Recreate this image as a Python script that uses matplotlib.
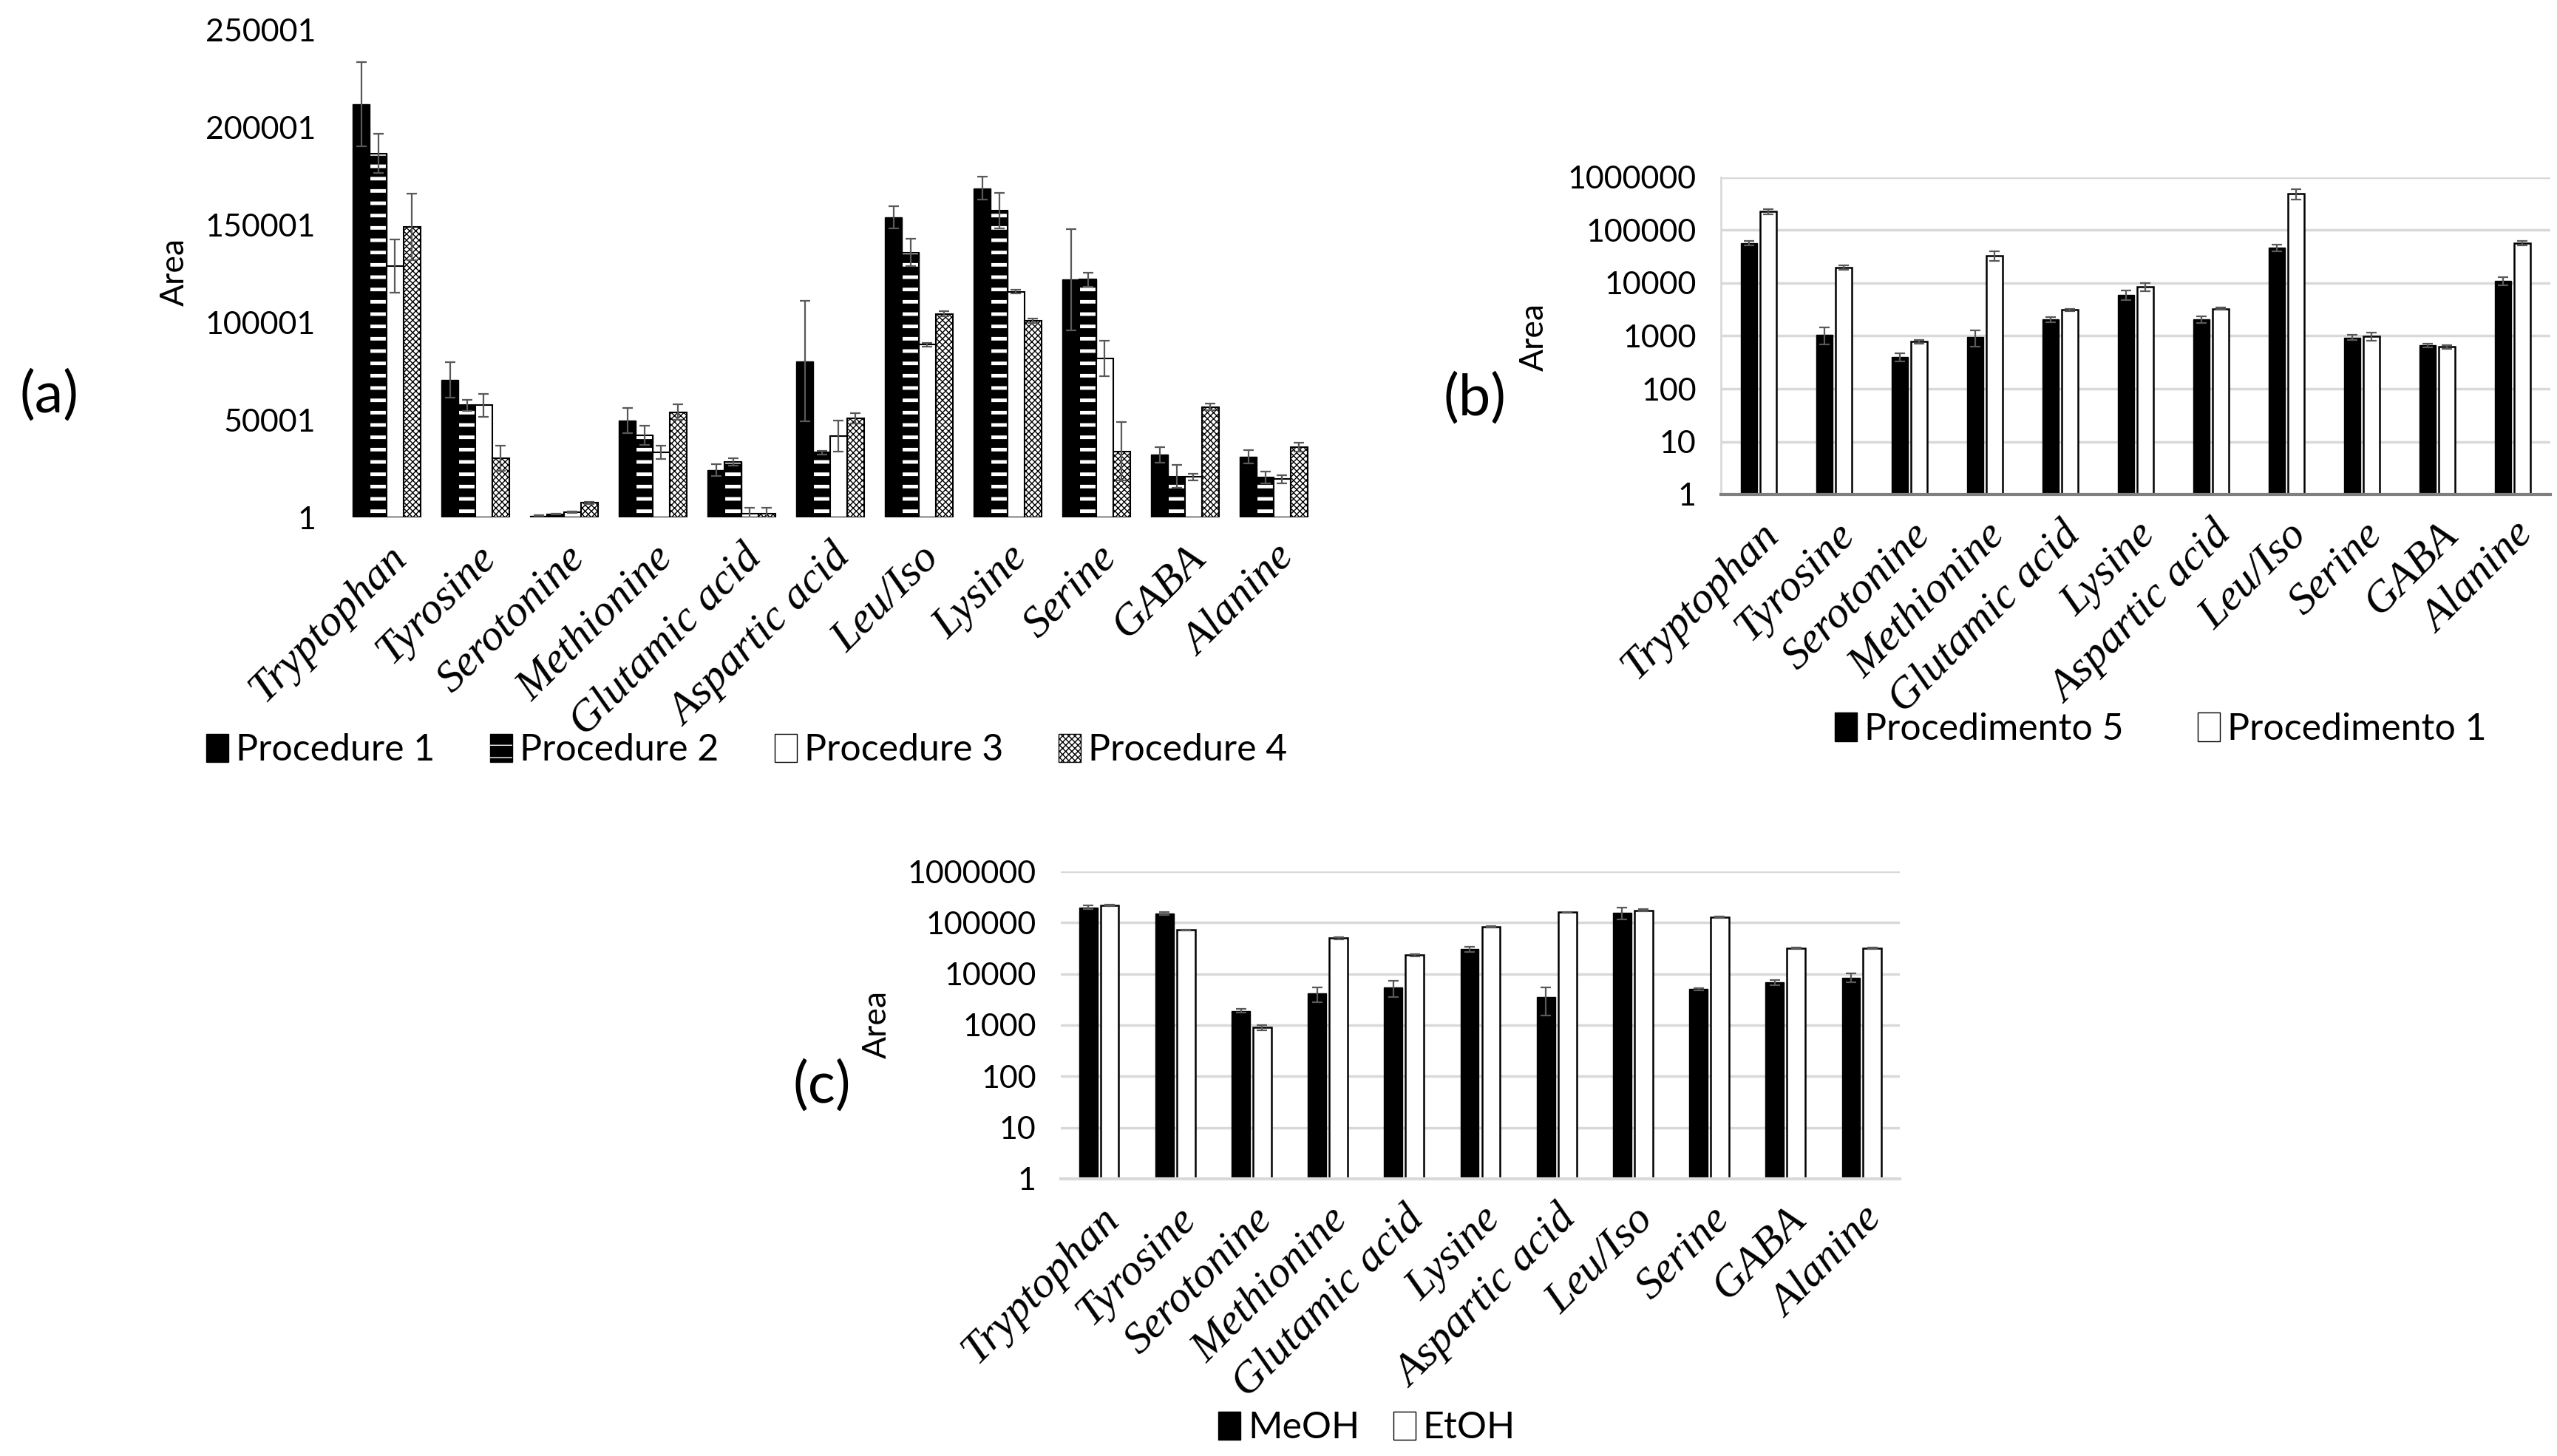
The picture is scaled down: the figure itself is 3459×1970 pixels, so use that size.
import numpy as np
import matplotlib
matplotlib.use("Agg")
import matplotlib.pyplot as plt
from matplotlib.patches import Patch
from matplotlib.legend_handler import HandlerTuple
from matplotlib.ticker import NullLocator

# panel (a) data
amino_a = ["Tryptophan", "Tyrosine", "Serotonine", "Methionine", "Glutamic acid",
           "Aspartic acid", "Leu/Iso", "Lysine", "Serine", "GABA", "Alanine"]
proc1 = [212000, 70500, 900, 49600, 24200, 80200, 154000, 169000, 122000, 32100, 31200]
proc1_err = [21500, 9000, 300, 6500, 3000, 31000, 5600, 6000, 26000, 4000, 3500]
proc2 = [186800, 57500, 1700, 42000, 28400, 33300, 136000, 157500, 122000, 21000, 20500]
proc2_err = [10000, 3000, 300, 5000, 1800, 1000, 7000, 9000, 3500, 6000, 3000]
proc3 = [129000, 57500, 2600, 33300, 1800, 41800, 88600, 115800, 81600, 20700, 19600]
proc3_err = [13500, 6000, 300, 3500, 3000, 8000, 1000, 1000, 9000, 1600, 2000]
proc4 = [149000, 30400, 7400, 54000, 1800, 50900, 104400, 100900, 33900, 56700, 36000]
proc4_err = [17000, 6500, 500, 4000, 3000, 2600, 1300, 1000, 15000, 1800, 2200]

# panels (b) and (c) share this order
amino_bc = ["Tryptophan", "Tyrosine", "Serotonine", "Methionine", "Glutamic acid",
            "Lysine", "Aspartic acid", "Leu/Iso", "Serine", "GABA", "Alanine"]
proc5_b = [57000, 1060, 404, 953, 2040, 5970, 2040, 46900, 933, 662, 11000]
proc5_b_err = [6000, 370, 70, 330, 250, 1200, 300, 7000, 100, 60, 1900]
proc1_b = [227000, 19900, 777, 33300, 3110, 8420, 3275, 487000, 985, 620, 56900]
proc1_b_err = [25000, 2000, 60, 7000, 150, 1500, 150, 110000, 180, 50, 5000]

meoh = [199000, 151000, 1900, 4120, 5440, 30300, 3490, 156000, 5030, 6790, 8470]
meoh_err = [15000, 8000, 150, 1300, 1900, 3500, 1950, 39000, 300, 700, 1600]
etoh = [217000, 71700, 905, 49800, 23200, 81900, 159000, 174000, 128000, 32000, 31300]
etoh_err = [5000, 2000, 100, 2000, 1000, 3000, 4000, 8000, 3000, 1000, 1000]

W, H = 3459, 1970
fig = plt.figure(figsize=(W / 100, H / 100), dpi=100)

sans = ["Lato", "DejaVu Sans"]
tick_font = dict(family="Liberation Serif", style="italic", size=43)
num_size = 31
leg_size = 36
ekw = dict(ecolor="#595959", elinewidth=1.6, capsize=5, capthick=1.6)


def hatch_lw(bars, lw):
    for p in bars:
        if hasattr(p, "set_hatch_linewidth"):
            p.set_hatch_linewidth(lw)


def style_xticks(ax, labels, ypad):
    ax.set_xticks(np.arange(len(labels)))
    ax.set_xticklabels(labels, rotation=45, ha="right", rotation_mode="anchor", **tick_font)
    ax.set_xlim(-0.5, len(labels) - 0.5)
    ax.tick_params(axis="x", length=0, pad=20)
    ax.tick_params(axis="y", length=0, pad=ypad)
    for t in ax.get_yticklabels():
        t.set_family(sans)
        t.set_fontsize(num_size)


# ---------- (a) ----------
ax_a = fig.add_axes([463 / W, 1 - 700 / H, 1320 / W, 659 / H])
x = np.arange(len(amino_a))
w = 0.19
ax_a.bar(x - 1.5 * w, proc1, w, color="black", edgecolor="black", yerr=proc1_err, error_kw=ekw)
ax_a.bar(x - 0.5 * w, proc2, w, color="black", edgecolor="black", yerr=proc2_err, error_kw=ekw)
b2 = ax_a.bar(x - 0.5 * w, proc2, w, color="none", edgecolor="white", hatch="-", linewidth=0)
hatch_lw(b2, 3.5)
ax_a.bar(x - 0.5 * w, proc2, w, color="none", edgecolor="black", linewidth=1.5)
ax_a.bar(x + 0.5 * w, proc3, w, color="white", edgecolor="black", linewidth=1.5,
         yerr=proc3_err, error_kw=ekw)
b4 = ax_a.bar(x + 1.5 * w, proc4, w, color="white", edgecolor="black", linewidth=1.5,
              hatch="xxxx", yerr=proc4_err, error_kw=ekw)
hatch_lw(b4, 1.0)
ax_a.set_ylim(1, 250001)
ax_a.set_yticks([1, 50001, 100001, 150001, 200001, 250001])
ax_a.set_yticklabels(["1", "50001", "100001", "150001", "200001", "250001"])
for s in ax_a.spines.values():
    s.set_visible(False)
style_xticks(ax_a, amino_a, 26)

h2 = (Patch(facecolor="black", edgecolor="black"),
      Patch(facecolor="none", edgecolor="white", hatch="-", linewidth=0))
handles_a = [Patch(facecolor="black", edgecolor="black"), h2,
             Patch(facecolor="white", edgecolor="black"),
             Patch(facecolor="white", edgecolor="black", hatch="xxxx")]
fig.legend(handles_a, ["Procedure 1", "Procedure 2", "Procedure 3", "Procedure 4"],
           loc="center", bbox_to_anchor=(1010 / W, 1 - 1015 / H), ncol=4, frameon=False,
           prop=dict(family=sans, size=leg_size), handlelength=0.6, handleheight=0.8,
           handletextpad=0.2, columnspacing=1.5,
           handler_map={tuple: HandlerTuple(ndivide=1, pad=0)})


def log_panel(rect, s1, e1, s2, e2, off, bw, left_spine, bottom_color):
    ax = fig.add_axes(rect)
    xx = np.arange(len(amino_bc))
    ax.bar(xx - off, s1, bw, color="black", edgecolor="black", yerr=e1, error_kw=ekw, zorder=3)
    ax.bar(xx + off, s2, bw, color="white", edgecolor="black", linewidth=1.8,
           yerr=e2, error_kw=ekw, zorder=3)
    ax.set_yscale("log")
    ax.set_ylim(1, 1e6)
    ticks = [1, 10, 100, 1000, 10000, 100000, 1000000]
    ax.set_yticks(ticks)
    ax.set_yticklabels([str(t) for t in ticks])
    ax.yaxis.set_minor_locator(NullLocator())
    ax.grid(axis="y", color="#d9d9d9", linewidth=2.5)
    ax.set_axisbelow(True)
    ax.spines["top"].set_visible(False)
    ax.spines["right"].set_visible(False)
    if left_spine:
        ax.spines["left"].set_color("#d9d9d9")
        ax.spines["left"].set_linewidth(2)
    else:
        ax.spines["left"].set_visible(False)
    ax.spines["bottom"].set_color(bottom_color)
    ax.spines["bottom"].set_linewidth(3)
    ax.spines["bottom"].set_zorder(4)
    style_xticks(ax, amino_bc, 24)
    return ax


# ---------- (b) ----------
log_panel([2328 / W, 1 - 669 / H, 1122 / W, 429 / H], proc5_b, proc5_b_err,
          proc1_b, proc1_b_err, 0.13, 0.22, True, "#7f7f7f")
fig.legend([Patch(facecolor="black", edgecolor="black"),
            Patch(facecolor="white", edgecolor="black")],
           ["Procedimento 5", "Procedimento 1"], loc="center",
           bbox_to_anchor=(2923 / W, 1 - 987 / H), ncol=2, frameon=False,
           prop=dict(family=sans, size=leg_size), handlelength=0.6, handleheight=0.8,
           handletextpad=0.2, columnspacing=2.0)

# ---------- (c) ----------
log_panel([1435 / W, 1 - 1595 / H, 1135 / W, 416 / H], meoh, meoh_err,
          etoh, etoh_err, 0.14, 0.24, False, "#d9d9d9")
fig.legend([Patch(facecolor="black", edgecolor="black"),
            Patch(facecolor="white", edgecolor="black")],
           ["MeOH", "EtOH"], loc="center",
           bbox_to_anchor=(1849 / W, 1 - 1932 / H), ncol=2, frameon=False,
           prop=dict(family=sans, size=leg_size), handlelength=0.6, handleheight=0.8,
           handletextpad=0.2, columnspacing=0.9)

# panel letters and axis titles
for lbl, px, py in [("(a)", 66, 536), ("(b)", 1995, 540), ("(c)", 1112, 1470)]:
    fig.text(px / W, 1 - py / H, lbl, ha="center", va="center", family=sans, size=56)
for px, py in [(236, 368), (2075, 456), (1186, 1386)]:
    fig.text(px / W, 1 - py / H, "Area", ha="center", va="center", rotation=90,
             family=sans, size=32)

fig.savefig("out.png", dpi=100)
